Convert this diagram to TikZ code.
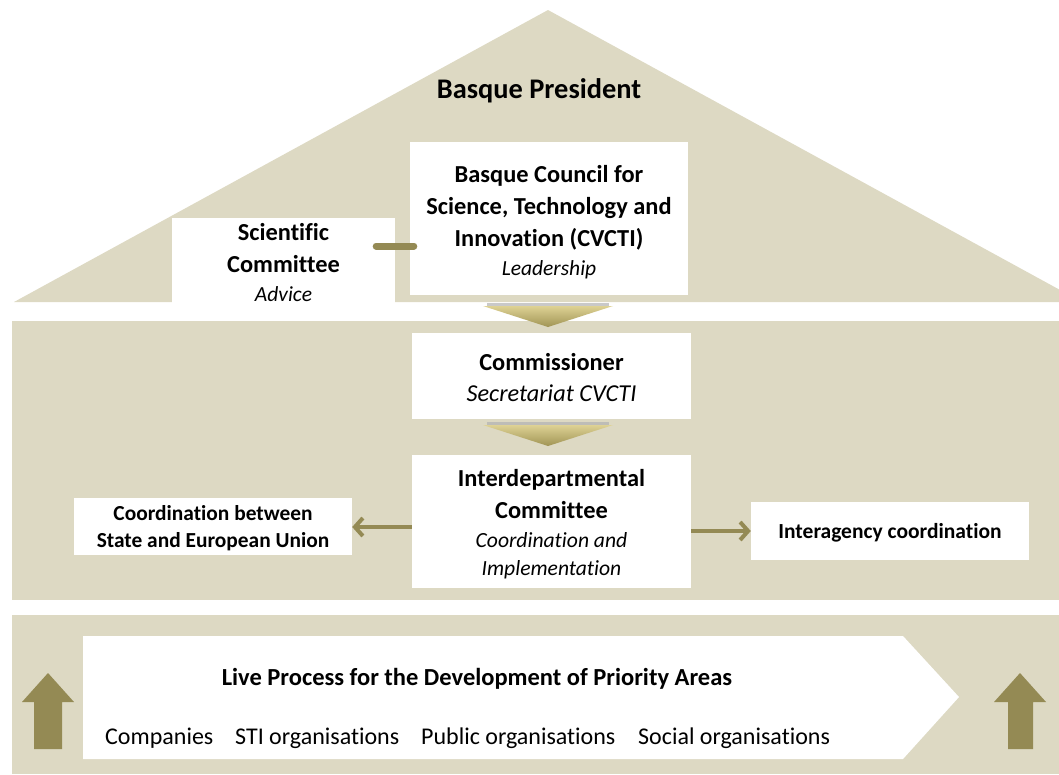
\documentclass[tikz,border=0pt]{standalone}
\usepackage{fontspec}
\setmainfont{Carlito}[Ligatures={NoCommon}]
\usetikzlibrary{arrows.meta}
\definecolor{beige}{HTML}{DDD9C3}
\definecolor{olivec}{HTML}{948A54}
\definecolor{goldtop}{HTML}{DED294}
\definecolor{goldbot}{HTML}{A09455}
\begin{document}
\begin{tikzpicture}[x=1pt,y=-1pt,
  band/.style={fill=beige, draw=none},
  box/.style={fill=white, draw=none, align=center, inner sep=0pt,
    font=\fontsize{24.4}{32}\selectfont\bfseries},
  conn/.style={draw=olivec, line width=4pt,
    -{Straight Barb[length=8pt,width=18pt,line width=4pt]}},
  link/.style={draw=olivec, line width=7pt, line cap=round},
  chevron/.style={top color=goldtop, bottom color=goldbot, draw=none},
  uparrow/.style={fill=olivec, draw=none},
  plain/.style={inner sep=0pt, font=\fontsize{24}{28}\selectfont},
]
\useasboundingbox (0,0) rectangle (1059,774);
\clip (0,0) rectangle (1059,774);
% roof
\fill[beige] (14,302) -- (548,10) -- (1082,302) -- cycle;
% bands
\fill[beige] (12,321) rectangle (1059,600);
\fill[beige] (12,615) rectangle (1059,774);

\node[plain, font=\fontsize{28.4}{32}\selectfont\bfseries] (pres) at (539,91) {Basque President};

\node[box, minimum width=223, minimum height=85] (sci) at (283.5,260)
  {\rule{0pt}{22pt}Scientific\\Committee\\[-3pt]{\mdseries\itshape\fontsize{21.5}{30}\selectfont Advice}};
\node[box, minimum width=278, minimum height=153] (cvcti) at (549,218.5)
  {\rule{0pt}{24pt}Basque Council for\\Science, Technology and\\Innovation (CVCTI)\\[-3pt]{\mdseries\itshape\fontsize{21.5}{30}\selectfont Leadership}};
\draw[link] ([shift={(-19,-14)}]sci.east) -- ([shift={(4,27.5)}]cvcti.west);

% chevron 1
\fill[gray!60, opacity=0.7] (487,302.5) rectangle (609,305.5);
\path[chevron] (483,306) -- (613,306) -- (548,327) -- cycle;

\node[box, minimum width=279, minimum height=86] (comm) at (551.5,376)
  {\rule{0pt}{20pt}Commissioner\\[-1pt]{\mdseries\itshape\fontsize{24.3}{30}\selectfont Secretariat CVCTI}};

% chevron 2
\fill[gray!60, opacity=0.7] (487,421.5) rectangle (609,424.5);
\path[chevron] (483,425) -- (613,425) -- (548,446) -- cycle;

\node[box, minimum width=279, minimum height=133] (inter) at (551.5,521)
  {\rule{0pt}{23pt}Interdepartmental\\Committee\\[-3pt]{\mdseries\itshape\fontsize{21.6}{27}\selectfont Coordination and}\\[-4pt]{\mdseries\itshape\fontsize{21.6}{27}\selectfont Implementation}};

\node[box, minimum width=278, minimum height=57, font=\fontsize{21.4}{27}\selectfont\bfseries] (eu) at (213,526.5)
  {\rule{0pt}{18pt}Coordination between\\State and European Union};
\node[box, minimum width=278, minimum height=58, font=\fontsize{21.5}{27}\selectfont\bfseries] (agency) at (890,531)
  {\rule{0pt}{18pt}Interagency coordination};

\draw[conn] (inter.west |- 0,527) -- (eu.east |- 0,527);
\draw[conn] (inter.east |- 0,531) -- (agency.west |- 0,531);

% bottom process arrow
\fill[white] (83,636) -- (903,636) -- (959,697) -- (903,759) -- (83,759) -- cycle;
\node[plain, font=\fontsize{24.5}{28}\selectfont\bfseries] (live) at (477,679) {Live Process for the Development of Priority Areas};
\node[plain, anchor=base west] (comp) at (105,744) {Companies};
\node[plain, anchor=base west] (sti) at (235,744) {STI organisations};
\node[plain, anchor=base west] (pub) at (421,744) {Public organisations};
\node[plain, anchor=base west] (soc) at (638,744) {Social organisations};

% up arrows
\path[uparrow] (34,749) -- (34,702) -- (22,702) -- (48,673) -- (74,702) -- (62,702) -- (62,749) -- cycle;
\path[uparrow] (1008,749) -- (1008,702) -- (994,702) -- (1020,673) -- (1046,702) -- (1033,702) -- (1033,749) -- cycle;
\end{tikzpicture}
\end{document}
